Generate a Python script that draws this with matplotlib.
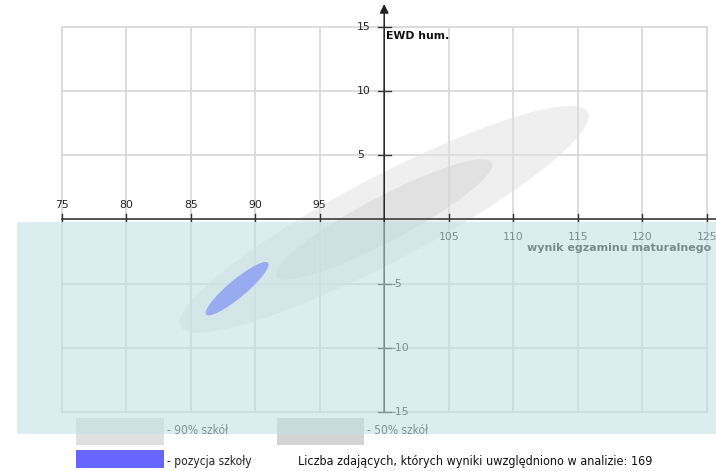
import matplotlib
matplotlib.use("Agg")
import matplotlib.pyplot as plt
from matplotlib.patches import Ellipse, Rectangle
from matplotlib import font_manager as fm

# ---- data ----
x_ticks = [75, 80, 85, 90, 95, 100, 105, 110, 115, 120, 125]
y_ticks = [-15, -10, -5, 0, 5, 10, 15]
x_axis_label = "wynik egzaminu maturalnego"
y_axis_label = "EWD hum."

ell_names = ["90% szkół", "50% szkół", "pozycja szkoły"]
ell_cx = [100.0, 100.0, 88.6]
ell_cy = [0.0, 0.0, -5.4]
ell_w = [35.7, 18.9, 6.25]
ell_h = [6.56, 3.48, 1.38]
ell_angle = [27.85, 27.85, 40.0]
ell_colors = ["#e0e0e0", "#d4d4d4", "#6666ff"]
ell_alpha = [0.5, 0.5, 1.0]
n_students = 169

W, H = 716, 471
fig = plt.figure(figsize=(W / 100, H / 100), dpi=100)
ax = fig.add_axes([0, 0, 1, 1])
sx, sy = 12.9, 12.85
x0 = 75 - 61.7 / sx
y0top = 219.3 / sy
ax.set_xlim(x0, x0 + W / sx)
ax.set_ylim(y0top - H / sy, y0top)
ax.axis("off")


def fx(px):
    return px / W


def fy(py):
    return 1 - py / H


# condensed font if available
fp_c = fm.FontProperties(family="DejaVu Sans", stretch="condensed")
cond = "Condensed" in fm.findfont(fp_c, fallback_to_default=True)
small_kw = dict(family="DejaVu Sans", fontstretch="condensed") if cond else dict(family="DejaVu Sans")
leg_size = 8.6 if cond else 7.4
note_size = 9.0 if cond else 7.75

xmin, xmax = min(x_ticks), max(x_ticks)
ymin, ymax = min(y_ticks), max(y_ticks)

# grid
for xv in x_ticks:
    ax.plot([xv, xv], [ymin, ymax], color="#d6d6d6", lw=1.2, zorder=1)
for yv in y_ticks:
    if yv != 0:
        ax.plot([xmin, xmax], [yv, yv], color="#d6d6d6", lw=1.2, zorder=1)

# ellipses
for i in range(3):
    ax.add_patch(Ellipse((ell_cx[i], ell_cy[i]), ell_w[i], ell_h[i], angle=ell_angle[i],
                         facecolor=ell_colors[i], edgecolor="none", alpha=ell_alpha[i], zorder=2 + i))

# x axis
ax.plot([xmin, x0 + W / sx + 1], [0, 0], color="#555555", lw=1.4, zorder=6)
for xv in x_ticks:
    if xv == 100:
        continue
    ax.plot([xv, xv], [-0.1, 0.42], color="#333333", lw=1.0, zorder=6)
    if xv < 100:
        ax.text(xv, 1.1, str(xv), ha="center", va="center", fontsize=7.8, color="#222222", zorder=6)
    else:
        ax.text(xv, -1.35, str(xv), ha="center", va="center", fontsize=7.8, color="#222222", zorder=6)

# y axis with arrow
ax.annotate("", xy=(100, 16.75), xytext=(100, ymin),
            arrowprops=dict(arrowstyle="-|>", color="#222222", lw=1.1, mutation_scale=13,
                            shrinkA=0, shrinkB=0), zorder=6)
for yv in y_ticks:
    if yv == 0:
        continue
    ax.plot([99.55, 100.5], [yv, yv], color="#333333", lw=1.0, zorder=6)
    if yv > 0:
        ax.text(97.88, yv, str(yv), ha="left", va="center", fontsize=7.8, color="#222222", zorder=6)
    else:
        ax.text(100.55, yv, str(yv), ha="left", va="center", fontsize=7.8, color="#222222", zorder=6)

ax.text(100.14, 14.25, y_axis_label, ha="left", va="center", fontsize=7.8,
        fontweight="bold", color="#111111", zorder=6)
ax.text(x0 + 711.5 / sx, y0top - 250.7 / sy, x_axis_label, ha="right", va="baseline", fontsize=8.0,
        fontweight="bold", color="#222222", zorder=6)

# legend
ax.add_patch(Rectangle((fx(76), fy(444.5)), fx(163.5) - fx(76), fy(417.5) - fy(444.5),
                       transform=ax.transAxes, facecolor=ell_colors[0], edgecolor="none", zorder=7))
ax.add_patch(Rectangle((fx(276.5), fy(444.5)), fx(363.5) - fx(276.5), fy(417.5) - fy(444.5),
                       transform=ax.transAxes, facecolor=ell_colors[1], edgecolor="none", zorder=7))
ax.add_patch(Rectangle((fx(76), fy(468)), fx(163.5) - fx(76), fy(450) - fy(468),
                       transform=ax.transAxes, facecolor=ell_colors[2], edgecolor="none", zorder=7))
ax.text(fx(167), fy(431), "- " + ell_names[0], transform=ax.transAxes, ha="left", va="center",
        fontsize=leg_size, color="#333333", zorder=7, **small_kw)
ax.text(fx(367), fy(431), "- " + ell_names[1], transform=ax.transAxes, ha="left", va="center",
        fontsize=leg_size, color="#333333", zorder=7, **small_kw)
ax.text(fx(167), fy(461.5), "- " + ell_names[2], transform=ax.transAxes, ha="left", va="center",
        fontsize=leg_size, color="#222222", zorder=7, **small_kw)
ax.text(fx(298), fy(461.5), f"Liczba zdających, których wyniki uwzględniono w analizie: {n_students}",
        transform=ax.transAxes, ha="left", va="center", fontsize=note_size, color="#111111", zorder=7,
        **small_kw)

# translucent overlay (below-average area)
ax.add_patch(Rectangle((fx(17), fy(434)), 1.0, fy(222) - fy(434), transform=ax.transAxes,
                       facecolor=(193 / 255, 224 / 255, 229 / 255), alpha=0.56, edgecolor="none",
                       zorder=20))

fig.savefig("out.png", dpi=100)
